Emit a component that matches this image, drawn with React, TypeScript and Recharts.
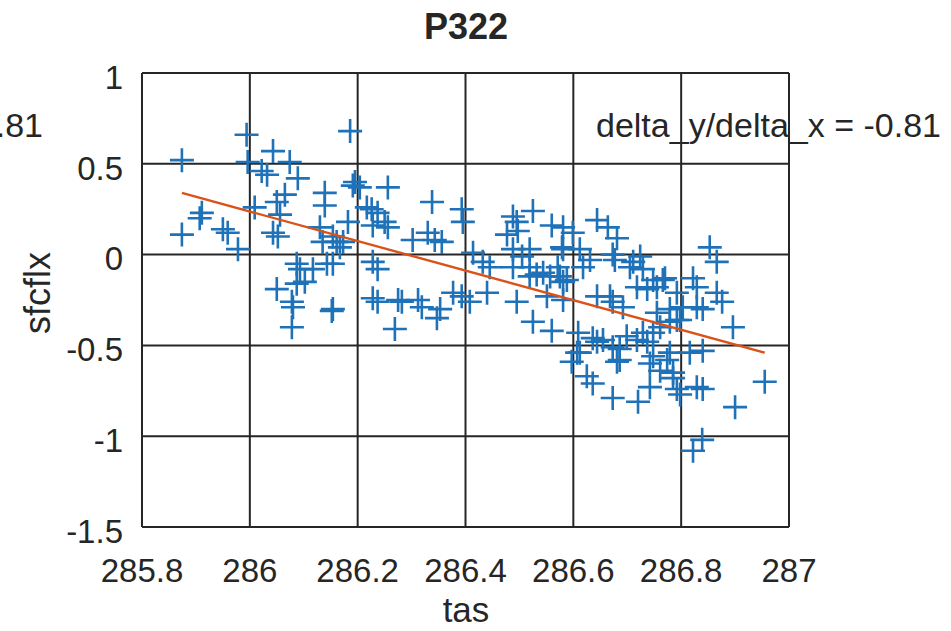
import React from 'react';
import { ScatterChart, Scatter, XAxis, YAxis, CartesianGrid, Customized } from 'recharts';

const xTicks = [285.8, 286, 286.2, 286.4, 286.6, 286.8, 287];
const xTickLabels = ['285.8', '286', '286.2', '286.4', '286.6', '286.8', '287'];
const yTicks = [-1.5, -1, -0.5, 0, 0.5, 1];
const yTickLabels = ['-1.5', '-1', '-0.5', '0', '0.5', '1'];

const tasValues = [
  285.874, 285.874, 285.911, 285.907, 285.950, 285.959, 285.978, 285.994, 285.996, 286.043,
  286.074, 286.022, 286.032, 286.089, 286.186, 286.191, 286.139, 286.065, 286.050, 286.009,
  286.139, 286.056, 286.182, 286.043, 286.052, 286.130, 286.135, 286.161, 286.167, 286.087,
  286.093, 286.117, 286.143, 286.102, 286.087, 286.050, 286.078, 286.080, 286.152, 286.078,
  286.195, 286.204, 286.256, 286.217, 286.226, 286.237, 286.338, 286.393, 286.395, 286.228,
  286.250, 286.256, 286.302, 286.330, 286.343, 286.356, 286.154, 286.173, 286.228, 286.237,
  286.414, 286.432, 286.445, 286.154, 286.228, 286.237, 286.275, 286.282, 286.312, 286.319,
  286.353, 286.347, 286.377, 286.393, 286.408, 286.440, 286.269, 286.154, 286.488, 286.495,
  286.525, 286.560, 286.581, 286.477, 286.497, 286.488, 286.519, 286.505, 286.519, 286.532,
  286.544, 286.557, 286.488, 286.581, 286.571, 286.495, 286.525, 286.560, 286.581, 286.551,
  286.581, 286.579, 286.612, 286.519, 286.575, 286.618, 286.631, 286.609, 286.607, 286.597,
  286.644, 286.664, 286.681, 286.673, 286.644, 286.668, 286.692, 286.711, 286.729, 286.718,
  286.737, 286.748, 286.644, 286.673, 286.686, 286.699, 286.718, 286.737, 286.748, 286.625,
  286.677, 286.724, 286.705, 286.755, 286.766, 286.673, 286.792, 286.803, 286.792, 286.755,
  286.588, 286.599, 286.636, 286.655, 286.686, 286.729, 286.748, 286.761, 286.779, 286.798,
  286.612, 286.681, 286.742, 286.761, 286.785, 286.792, 286.742, 286.636, 286.673, 286.720,
  286.822, 286.853, 286.866, 286.822, 286.770, 286.829, 286.866, 286.876, 286.829, 286.840,
  286.779, 286.896, 286.840, 286.816, 286.779, 286.774, 286.785, 286.829, 286.840, 286.798,
  286.955, 286.900, 286.839,
];

const sfcflxValues = [
  0.52, 0.11, 0.23, 0.20, 0.14, 0.12, 0.03, 0.66, 0.51, 0.57,
  0.51, 0.46, 0.44, 0.42, 0.68, 0.38, 0.34, 0.33, 0.29, 0.26,
  0.27, 0.22, 0.18, 0.12, 0.10, 0.15, 0.07, 0.07, 0.04, -0.05,
  -0.08, -0.08, -0.05, -0.15, -0.16, -0.19, -0.26, -0.29, -0.31, -0.40,
  0.40, 0.37, 0.37, 0.26, 0.25, 0.23, 0.29, 0.25, 0.18, 0.16,
  0.18, 0.15, 0.08, 0.12, 0.08, 0.07, 0.10, 0.07, -0.04, -0.08,
  0.01, -0.04, -0.07, -0.05, -0.24, -0.26, -0.25, -0.26, -0.25, -0.29,
  -0.30, -0.35, -0.21, -0.23, -0.26, -0.21, -0.41, -0.30, 0.21, 0.18,
  0.24, 0.16, 0.15, 0.11, 0.13, 0.03, 0.03, -0.01, -0.12, -0.11,
  -0.10, -0.12, -0.07, 0.03, -0.07, -0.26, -0.37, -0.42, -0.15, -0.23,
  -0.25, 0.04, 0.03, -0.07, -0.12, -0.07, -0.03, -0.43, -0.54, -0.59,
  0.19, 0.15, 0.09, 0.00, -0.23, -0.23, -0.29, -0.04, -0.08, -0.18,
  -0.19, -0.14, -0.48, -0.51, -0.58, -0.45, -0.47, -0.48, -0.56, -0.67,
  -0.03, -0.01, -0.07, -0.18, -0.14, -0.26, -0.21, -0.29, -0.36, -0.32,
  -0.14, 0.12, -0.46, -0.47, -0.52, -0.43, -0.43, -0.40, -0.37, -0.36,
  -0.54, -0.59, -0.60, -0.64, -0.68, -0.74, -0.73, -0.71, -0.79, -0.81,
  -1.08, 0.04, -0.04, -0.13, -0.13, -0.18, -0.21, -0.26, -0.29, -0.30,
  -0.30, -0.40, -0.53, -0.54, -0.54, -0.58, -0.65, -0.73, -0.74, -0.77,
  -0.70, -0.84, -1.02,
];

const fitX = [285.874, 286.955];
const fitY = [0.34, -0.54];

const points = tasValues.map((x, i) => ({ x, y: sfcflxValues[i] }));
const fitLine = fitX.map((x, i) => ({ x, y: fitY[i] }));

const BLUE = '#1f72b8';
const ORANGE = '#D95319';
const TEXT = '#262626';
const FONT = 'Liberation Sans, Arial, sans-serif';

const Cross = (props: any) => {
  const { cx, cy } = props;
  if (cx == null || cy == null) return null;
  const h = 12;
  return (
    <path
      d={`M${cx - h},${cy}L${cx + h},${cy}M${cx},${cy - h}L${cx},${cy + h}`}
      stroke={BLUE}
      strokeWidth={2.6}
      fill="none"
    />
  );
};

const YTick = (props: any) => {
  const { x, y, payload } = props;
  const label = yTickLabels[yTicks.indexOf(payload.value)] ?? String(payload.value);
  return (
    <text x={x} y={y + 4} dy="0.355em" textAnchor="end" fill={TEXT} fontSize={33} fontFamily={FONT}>
      {label}
    </text>
  );
};

const XTick = (props: any) => {
  const { x, y, payload } = props;
  const label = xTickLabels[xTicks.indexOf(payload.value)] ?? String(payload.value);
  return (
    <text x={x} y={y} dy="0.71em" textAnchor="middle" fill={TEXT} fontSize={33} fontFamily={FONT}>
      {label}
    </text>
  );
};

const Texts = () => (
  <g fontFamily={FONT} fill={TEXT}>
    <text x={466} y={39} textAnchor="middle" fontSize={36} fontWeight="bold">P322</text>
    <text x={596} y={137} fontSize={34}>delta_y/delta_x = -0.81</text>
    <text x={43} y={137} fontSize={34} textAnchor="end">delta_y/delta_x = -0.81</text>
    <text x={466} y={622} textAnchor="middle" fontSize={35}>tas</text>
    <text x={50} y={293} textAnchor="middle" fontSize={36} transform="rotate(-90, 50, 293)">sfcflx</text>
  </g>
);

export default function App() {
  return (
    <div style={{ position: 'absolute', left: 0, top: 0, width: 951, height: 631, background: '#fff' }}>
      <ScatterChart width={951} height={631} margin={{ top: 73, right: 162, bottom: 44, left: 82 }}>
        <CartesianGrid stroke={TEXT} strokeWidth={2} horizontalValues={yTicks} verticalValues={xTicks} />
        <XAxis
          type="number"
          dataKey="x"
          domain={[285.8, 287]}
          ticks={xTicks}
          tickLine={false}
          axisLine={{ stroke: TEXT, strokeWidth: 2 }}
          tick={<XTick />}
          tickMargin={26}
          height={60}
          allowDataOverflow
          interval={0}
        />
        <YAxis
          type="number"
          dataKey="y"
          domain={[-1.5, 1]}
          ticks={yTicks}
          tickLine={false}
          axisLine={{ stroke: TEXT, strokeWidth: 2 }}
          tick={<YTick />}
          tickMargin={13}
          width={60}
          allowDataOverflow
          interval={0}
        />
        <Scatter data={points} shape={<Cross />} isAnimationActive={false} />
        <Scatter
          data={fitLine}
          line={{ stroke: ORANGE, strokeWidth: 2.4 }}
          shape={() => null}
          isAnimationActive={false}
        />
        <Customized component={Texts} />
      </ScatterChart>
    </div>
  );
}
